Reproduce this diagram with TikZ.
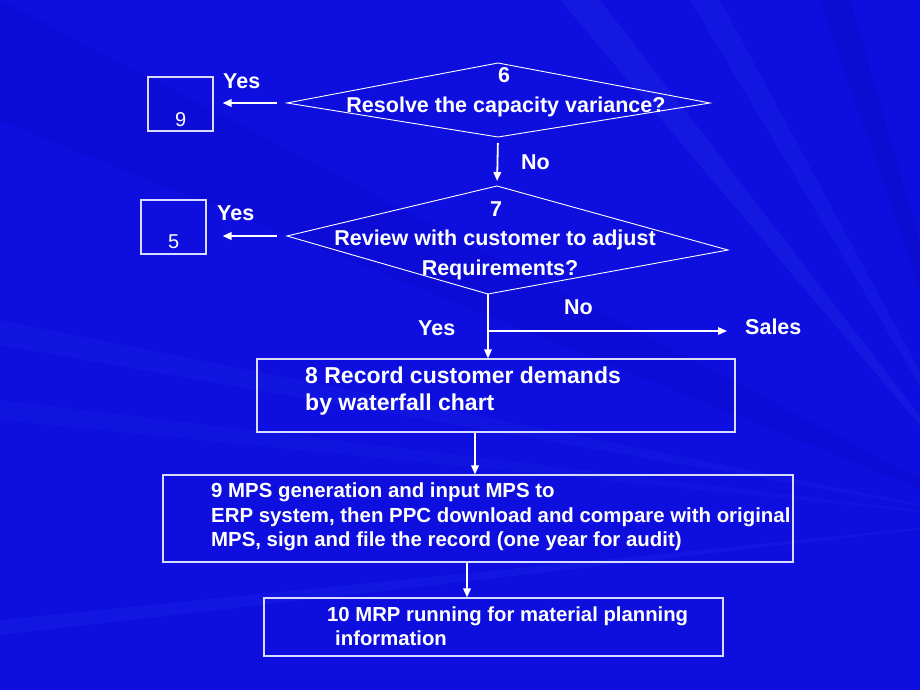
\documentclass[tikz,border=0pt]{standalone}
\usepackage{fontspec}
\setmainfont{Liberation Sans}
\usetikzlibrary{arrows.meta}
\definecolor{slideblue}{RGB}{14,14,222}
\definecolor{raylight}{RGB}{80,120,255}
\definecolor{raydark}{RGB}{6,6,170}
\definecolor{edgewhite}{RGB}{215,220,255}

\begin{document}
\begin{tikzpicture}[x=1pt,y=1pt]
\tikzstyle{every node}+=[inner sep=0pt,text=white]
\tikzstyle{lbl}=[font=\bfseries\fontsize{21.5}{24}\selectfont,anchor=base west]
\tikzstyle{digit}=[font=\fontsize{20}{24}\selectfont,anchor=base west]
\tikzstyle{box}=[draw=edgewhite,line width=1.1pt,minimum width=#1]
\tikzstyle{arr}=[white,line width=2pt,-{Triangle[length=9pt,width=7.5pt]}]
\tikzstyle{edge}=[white,line width=0.9pt]
\useasboundingbox (0,0) rectangle (920,-690);
\fill [slideblue] (0,0) rectangle (920,-690);
\begin{scope}
\clip (0,0) rectangle (920,-690);
\fill [raylight,opacity=0.1] (1000,-520) -- (560,0) -- (600,0) -- cycle;
\fill [raylight,opacity=0.08] (1000,-520) -- (690,0) -- (720,0) -- cycle;
\fill [raydark,opacity=0.2] (1000,-520) -- (820,0) -- (850,0) -- cycle;
\fill [raylight,opacity=0.07] (1000,-520) -- (0,-320) -- (0,-345) -- cycle;
\fill [raylight,opacity=0.06] (1000,-520) -- (0,-400) -- (0,-420) -- cycle;
\fill [raylight,opacity=0.08] (1000,-520) -- (0,-620) -- (0,-635) -- cycle;
\fill [raydark,opacity=0.15] (1000,-520) -- (0,0) -- (0,-120) -- cycle;
\end{scope}
% decision 6
\coordinate (d6w) at (287,-103);
\coordinate (d6n) at (498,-63);
\coordinate (d6e) at (710,-103);
\coordinate (d6s) at (498,-137);
\draw [edge] (d6w) -- (d6n) -- (d6e) -- (d6s) -- cycle;
\node [lbl,anchor=base] (n6) at (504,-83) {6};
\node [lbl,anchor=base] (q6) at (506,-113) {Resolve the capacity variance?};
% decision 7
\coordinate (d7w) at (287,-236);
\coordinate (d7n) at (497,-186);
\coordinate (d7e) at (728,-250);
\coordinate (d7s) at (488,-294);
\draw [edge] (d7w) -- (d7n) -- (d7e) -- (d7s) -- cycle;
\node [lbl,anchor=base] (n7) at (496,-216) {7};
\node [lbl,anchor=base] (q7a) at (495,-245) {Review with customer to adjust};
\node [lbl,anchor=base] (q7b) at (500,-275) {Requirements?};
% jump boxes
\node [box=65pt,minimum height=54pt] (j9) at (180.5,-104) {};
\node [digit] (j9t) at (175,-126) {9};
\node [box=65pt,minimum height=54pt] (j5) at (173.5,-227) {};
\node [digit] (j5t) at (168,-248) {5};
\node [lbl] (yes6) at (223,-89) {Yes};
\node [lbl] (yes7) at (217,-220) {Yes};
\node [lbl] (no6) at (521,-169) {No};
\node [lbl] (no7) at (564,-314) {No};
\node [lbl] (yes8) at (418,-335) {Yes};
\node [lbl] (sales) at (745,-334) {Sales};
% process boxes
\node [box=478pt,minimum height=73pt] (rec) at (496,-395.5) {};
\node [lbl,font=\bfseries\fontsize{23}{26}\selectfont] (rec1) at (305,-383) {8 Record customer demands};
\node [lbl,font=\bfseries\fontsize{23}{26}\selectfont] (rec2) at (305,-410) {by waterfall chart};
\node [box=630pt,minimum height=87pt] (mps) at (478,-518.5) {};
\node [lbl,font=\bfseries\fontsize{20.4}{24}\selectfont] (mps1) at (211,-497) {9 MPS generation and input MPS to};
\node [lbl,font=\bfseries\fontsize{20.4}{24}\selectfont] (mps2) at (211,-522) {ERP system, then PPC download and compare with original};
\node [lbl,font=\bfseries\fontsize{20.4}{24}\selectfont] (mps3) at (211,-546) {MPS, sign and file the record (one year for audit)};
\node [box=459pt,minimum height=58pt] (mrp) at (493.5,-627) {};
\node [lbl,font=\bfseries\fontsize{20.3}{24}\selectfont] (mrp1) at (327,-621) {10 MRP running for material planning};
\node [lbl,font=\bfseries\fontsize{20.3}{24}\selectfont] (mrp2) at (335,-645) {information};
% connectors
\draw [arr,shorten <=10pt,shorten >=9pt] (d6w) -- (d6w -| j9.east);
\draw [arr,shorten <=10pt,shorten >=16pt] (d7w) -- (d7w -| j5.east);
\draw [arr,line width=1.8pt,shorten <=6pt,shorten >=5pt] (d6s) -- (d7n);
\coordinate (br) at (488,-331);
\draw [arr,line width=1.6pt] (d7s) -- (d7s |- rec.north);
\draw [arr,line width=1.6pt,shorten >=18pt] (br) -- (br -| sales.west);
\draw [arr,line width=1.6pt] ([xshift=-21pt]rec.south) -- ([xshift=-21pt]rec.south |- mps.north);
\draw [arr,line width=1.6pt] ([xshift=-11pt]mps.south) -- ([xshift=-11pt]mps.south |- mrp.north);
\end{tikzpicture}
\end{document}
